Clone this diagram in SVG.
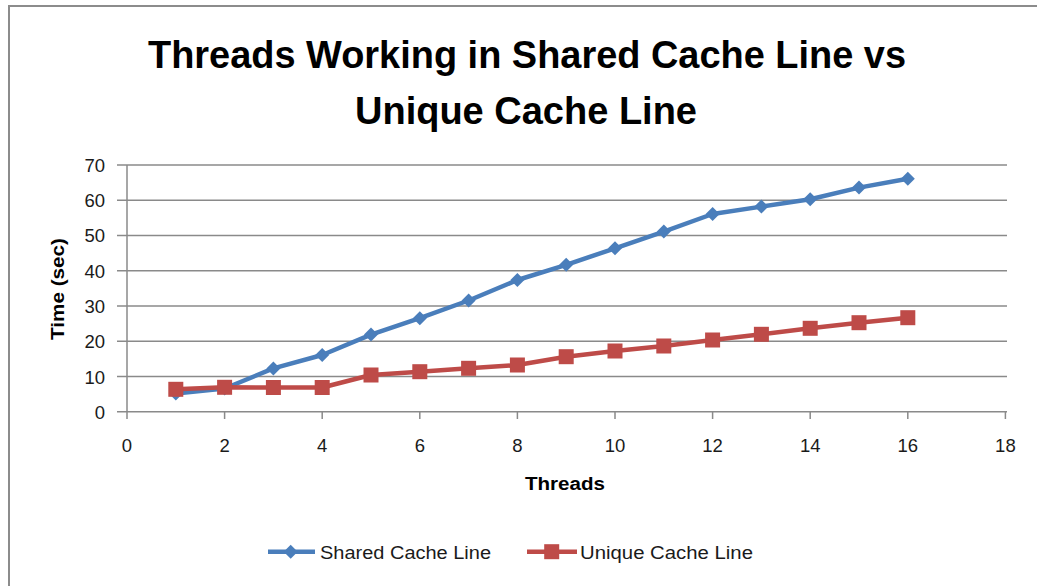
<svg xmlns="http://www.w3.org/2000/svg" width="1037" height="586" viewBox="0 0 1037 586">
<style>
.title{font-family:"Liberation Sans",Arial,sans-serif;font-weight:bold;font-size:39px;fill:#000;text-anchor:middle}
.tick{font-family:"Liberation Sans",Arial,sans-serif;font-size:18.5px;fill:#1a1a1a}
.axt{font-family:"Liberation Sans",Arial,sans-serif;font-weight:bold;font-size:18px;fill:#000;text-anchor:middle}
.leg{font-family:"Liberation Sans",Arial,sans-serif;font-size:17.5px;fill:#1a1a1a}
.grid{stroke:#8a8a8a;stroke-width:1.5;fill:none}
.blue{stroke:#4A7EBB;stroke-width:4.5;fill:none;stroke-linejoin:round}
.red{stroke:#BE4B48;stroke-width:4.5;fill:none;stroke-linejoin:round}
</style>
<defs>
<marker id="dia" markerUnits="userSpaceOnUse" markerWidth="16" markerHeight="16" viewBox="0 0 16 16" refX="8" refY="8" overflow="visible">
<path d="M8,1 L15,8 L8,15 L1,8 Z" fill="#4A7EBB"/>
</marker>
<marker id="sq" markerUnits="userSpaceOnUse" markerWidth="16" markerHeight="16" viewBox="0 0 16 16" refX="8" refY="8" overflow="visible">
<rect x="0.5" y="0.5" width="15" height="15" fill="#BE4B48"/>
</marker>
</defs>
<rect x="0" y="0" width="1037" height="586" fill="#fff"/>
<rect x="9" y="6" width="1040" height="600" fill="none" stroke="#8c8c8c" stroke-width="2"/>
<g id="title">
<text class="title" x="527" y="68" textLength="758" lengthAdjust="spacingAndGlyphs">Threads Working in Shared Cache Line vs</text>
<text class="title" x="526" y="124" textLength="342" lengthAdjust="spacingAndGlyphs">Unique Cache Line</text>
</g>
<g id="grid">
<path class="grid" d="M117,165H1007M117,200.2H1007M117,235.4H1007M117,270.7H1007M117,306H1007M117,341.2H1007M117,376.5H1007M117,411.7H1007"/>
<path class="grid" d="M127,165V411.7"/>
<path class="grid" d="M127,411.7V419M224.6,411.7V419M322.2,411.7V419M419.8,411.7V419M517.4,411.7V419M615,411.7V419M712.6,411.7V419M810.2,411.7V419M907.8,411.7V419M1005.4,411.7V419"/>
</g>
<g id="y-labels" class="tick" text-anchor="end">
<text x="105" y="171.5">70</text>
<text x="105" y="207">60</text>
<text x="105" y="242">50</text>
<text x="105" y="277.5">40</text>
<text x="105" y="313">30</text>
<text x="105" y="348">20</text>
<text x="105" y="383.5">10</text>
<text x="105" y="418.5">0</text>
</g>
<g id="x-labels" class="tick" text-anchor="middle">
<text x="127" y="451.5">0</text>
<text x="224.6" y="451.5">2</text>
<text x="322.2" y="451.5">4</text>
<text x="419.8" y="451.5">6</text>
<text x="517.4" y="451.5">8</text>
<text x="615" y="451.5">10</text>
<text x="712.6" y="451.5">12</text>
<text x="810.2" y="451.5">14</text>
<text x="907.8" y="451.5">16</text>
<text x="1005.4" y="451.5">18</text>
</g>
<g id="axis-titles">
<text class="axt" x="565" y="490" textLength="80" lengthAdjust="spacingAndGlyphs">Threads</text>
<text class="axt" transform="translate(64,289) rotate(-90)" x="0" y="0" textLength="102" lengthAdjust="spacingAndGlyphs">Time (sec)</text>
</g>
<g id="connectors">
<polyline id="shared" class="blue" marker-start="url(#dia)" marker-mid="url(#dia)" marker-end="url(#dia)" points="175.8,393.5 224.6,388.5 273.4,368.4 322.2,355 371,334.6 419.8,318.2 468.6,300.5 517.4,280 566.2,264.8 615,248.3 663.8,231.6 712.6,214 761.4,206.6 810.2,199.2 859,187.6 907.8,178.8"/>
<polyline id="unique" class="red" marker-start="url(#sq)" marker-mid="url(#sq)" marker-end="url(#sq)" points="175.8,389.3 224.6,387.3 273.4,387.5 322.2,387.5 371,375 419.8,371.7 468.6,368.3 517.4,365 566.2,356.7 615,351 663.8,346 712.6,340 761.4,334.3 810.2,328.3 859,322.7 907.8,317.7"/>
</g>
<g id="legend">
<g id="legend-shared">
<path class="blue" d="M268,551.7H315"/>
<path d="M290.7,544.7 L297.7,551.7 L290.7,558.7 L283.7,551.7 Z" fill="#4A7EBB"/>
<text class="leg" x="320" y="558.5" textLength="171" lengthAdjust="spacingAndGlyphs">Shared Cache Line</text>
</g>
<g id="legend-unique">
<path class="red" d="M527,551.7H577"/>
<rect x="544.2" y="544.2" width="15" height="15" fill="#BE4B48"/>
<text class="leg" x="580" y="558.5" textLength="173" lengthAdjust="spacingAndGlyphs">Unique Cache Line</text>
</g>
</g>
</svg>
